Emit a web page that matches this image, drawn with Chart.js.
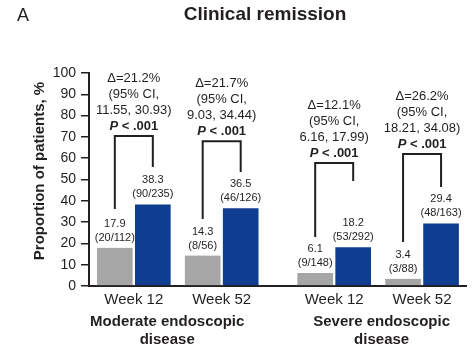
<!DOCTYPE html>
<html>
<head>
<meta charset="utf-8">
<title>Clinical remission</title>
<script src="https://cdn.jsdelivr.net/npm/chart.js@4"></script>
<style>
  html, body { margin: 0; padding: 0; background: #fff; }
  #wrap { width: 473px; height: 349px; position: relative; }
</style>
</head>
<body>
<div id="wrap"><canvas id="chart" width="473" height="349"></canvas></div>
<script>
// Chart values
const weekLabels = ['Week 12', 'Week 52', 'Week 12', 'Week 52'];
const diseaseLabels = [['Moderate endoscopic', 'disease'], ['Severe endoscopic', 'disease']];
const placeboValues = [17.9, 14.3, 6.1, 3.4];
const placeboCounts = ['(20/112)', '(8/56)', '(9/148)', '(3/88)'];
const treatedValues = [38.3, 36.5, 18.2, 29.4];
const treatedCounts = ['(90/235)', '(46/126)', '(53/292)', '(48/163)'];
const deltaLabels = ['Δ=21.2%', 'Δ=21.7%', 'Δ=12.1%', 'Δ=26.2%'];
const ciLabels = ['11.55, 30.93)', '9.03, 34.44)', '6.16, 17.99)', '18.21, 34.08)'];
const pLabel = '< .001';
// bracket heights, in % units
const bracketTop = [70.4, 68, 57.7, 62];
const bracketLeftEnd = [36.2, 31.5, 23, 20.7];
const bracketRightEnd = [55.9, 53.5, 49.3, 46.5];

// layout
const groupPos = [0, 1, 2.28, 3.28];
const diseaseLabelPos = [0.38, 2.82];
const FONT = '"Liberation Sans", Arial, Helvetica, sans-serif';
const INK = '#231f20';
const GREY = '#a6a6a6';
const BLUE = '#0f3d8f';

const annotations = {
    id: 'annotations',
    afterDraw(chart) {
        const ctx = chart.ctx;
        const x = chart.scales.x;
        const y = chart.scales.y;
        ctx.save();
        ctx.fillStyle = INK;
        ctx.textBaseline = 'middle';

        // panel letter + title
        ctx.textAlign = 'left';
        ctx.font = '18px ' + FONT;
        ctx.fillText('A', 17, 16);
        ctx.textAlign = 'center';
        ctx.font = 'bold 19px ' + FONT;
        ctx.fillText('Clinical remission', 265, 15);

        // y axis title
        ctx.save();
        ctx.translate(40, 171);
        ctx.rotate(-Math.PI / 2);
        ctx.font = 'bold 15px ' + FONT;
        ctx.fillText('Proportion of patients, %', 0, 0);
        ctx.restore();

        // disease group labels
        ctx.font = 'bold 15px ' + FONT;
        diseaseLabels.forEach((lines, i) => {
            const cx = x.getPixelForValue(diseaseLabelPos[i]);
            lines.forEach((t, j) => ctx.fillText(t, cx, 322 + j * 18));
        });

        // value labels above bars
        ctx.font = '11px ' + FONT;
        [0, 1].forEach(di => {
            const meta = chart.getDatasetMeta(di);
            const vals = di === 0 ? placeboValues : treatedValues;
            const counts = di === 0 ? placeboCounts : treatedCounts;
            meta.data.forEach((bar, i) => {
                ctx.fillText(vals[i].toFixed(1), bar.x, bar.y - 24);
                ctx.fillText(counts[i], bar.x, bar.y - 10);
            });
        });

        // brackets and difference text
        const gMeta = chart.getDatasetMeta(0);
        const bMeta = chart.getDatasetMeta(1);
        ctx.strokeStyle = INK;
        ctx.lineWidth = 2;
        ctx.lineJoin = 'miter';
        groupPos.forEach((g, i) => {
            const xl = gMeta.data[i].x;
            const xr = bMeta.data[i].x;
            const top = y.getPixelForValue(bracketTop[i]);
            ctx.beginPath();
            ctx.moveTo(xl, y.getPixelForValue(bracketLeftEnd[i]));
            ctx.lineTo(xl, top);
            ctx.lineTo(xr, top);
            ctx.lineTo(xr, y.getPixelForValue(bracketRightEnd[i]));
            ctx.stroke();

            const cx = x.getPixelForValue(g);
            ctx.font = '13px ' + FONT;
            ctx.textAlign = 'center';
            ctx.fillText(deltaLabels[i], cx, top - 58);
            ctx.fillText('(95% CI,', cx, top - 42);
            ctx.fillText(ciLabels[i], cx, top - 26);

            // "P < .001" with italic P
            const pFont = 'italic bold 13px ' + FONT;
            const rFont = 'bold 13px ' + FONT;
            ctx.font = pFont;
            const wP = ctx.measureText('P').width;
            ctx.font = rFont;
            const rest = ' ' + pLabel;
            const wR = ctx.measureText(rest).width;
            const sx = cx - (wP + wR) / 2;
            ctx.textAlign = 'left';
            ctx.font = pFont;
            ctx.fillText('P', sx, top - 10);
            ctx.font = rFont;
            ctx.fillText(rest, sx + wP, top - 10);
        });
        ctx.restore();
    }
};

const barStyle = {
    barThickness: 38,
    borderWidth: { left: 1.5, right: 1.5, top: 0, bottom: 0 },
    borderColor: '#ffffff',
    borderSkipped: false
};

new Chart(document.getElementById('chart'), {
    type: 'bar',
    data: {
        datasets: [
            Object.assign({
                label: 'Placebo',
                data: groupPos.map((p, i) => ({ x: p, y: placeboValues[i] })),
                backgroundColor: GREY
            }, barStyle),
            Object.assign({
                label: 'Treatment',
                data: groupPos.map((p, i) => ({ x: p, y: treatedValues[i] })),
                backgroundColor: BLUE
            }, barStyle)
        ]
    },
    options: {
        responsive: false,
        animation: false,
        layout: { padding: { top: 73, right: 7, left: 0, bottom: 0 } },
        plugins: {
            legend: { display: false },
            tooltip: { enabled: false }
        },
        scales: {
            x: {
                type: 'linear',
                min: -0.51,
                max: 3.78,
                offset: false,
                grid: { display: false, drawTicks: false },
                border: { color: INK, width: 2 },
                afterBuildTicks: scale => {
                    scale.ticks = groupPos.map(v => ({ value: v }));
                },
                afterFit: scale => { scale.height = 63; },
                ticks: {
                    autoSkip: false,
                    maxRotation: 0,
                    padding: 5,
                    color: INK,
                    font: { family: FONT, size: 15 },
                    callback: (v, i) => weekLabels[i]
                }
            },
            y: {
                min: 0,
                max: 100,
                afterFit: scale => { scale.width = 89; },
                grid: {
                    drawOnChartArea: false,
                    drawTicks: true,
                    tickLength: 8,
                    color: INK,
                    lineWidth: 1.5
                },
                border: { color: INK, width: 2 },
                ticks: {
                    stepSize: 10,
                    padding: 5,
                    color: INK,
                    font: { family: FONT, size: 14 }
                }
            }
        }
    },
    plugins: [annotations]
});
</script>
</body>
</html>
